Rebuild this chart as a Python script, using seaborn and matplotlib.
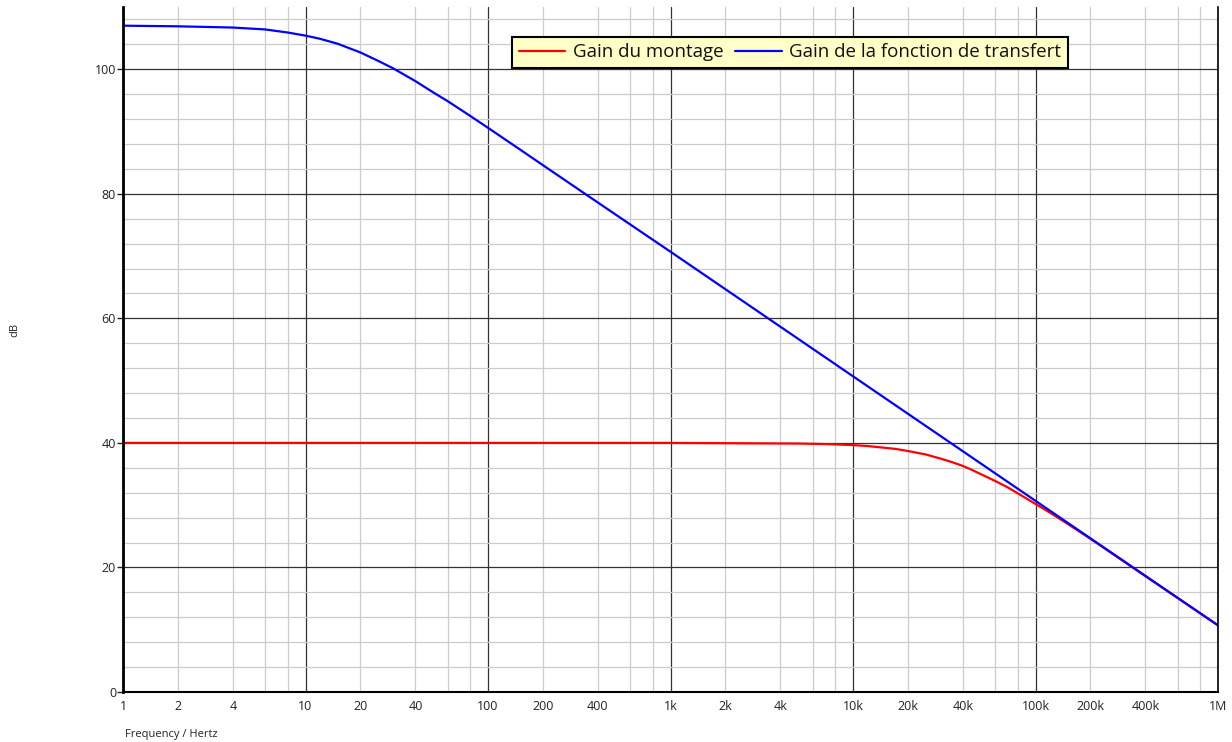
import matplotlib
matplotlib.use("Agg")
import matplotlib.pyplot as plt
import seaborn as sns
import pandas as pd
from matplotlib.ticker import FixedLocator, NullFormatter

# values (dB against Hz)
freq_blue = [1, 2, 4, 6, 8, 10, 12, 15, 20, 25, 30, 40, 50, 60, 80, 100,
             150, 200, 400, 1000, 10000, 100000, 1000000]
gain_blue = [107.0, 106.9, 106.7, 106.4, 105.9, 105.4, 104.9, 104.1, 102.7,
             101.35, 100.2, 98.1, 96.3, 94.9, 92.5, 90.6, 87.1, 84.6, 78.6,
             70.7, 50.7, 30.7, 10.7]

freq_red = [1, 10, 100, 1000, 5000, 7000, 10000, 12000, 14000, 17000, 20000,
            25000, 30000, 35000, 40000, 45000, 50000, 60000, 70000, 80000,
            100000, 120000, 150000, 200000, 400000, 1000000]
gain_red = [40.0, 40.0, 40.0, 40.0, 39.9, 39.82, 39.65, 39.5, 39.3, 39.05,
            38.7, 38.15, 37.5, 36.9, 36.3, 35.65, 35.0, 33.9, 32.9, 31.9,
            30.2, 28.8, 27.0, 24.6, 18.6, 10.7]

series_names = ["Gain du montage", "Gain de la fonction de transfert"]
series_colors = ["#ff0000", "#0000ff"]

xtick_pos = [1, 2, 4, 10, 20, 40, 100, 200, 400, 1e3, 2e3, 4e3, 1e4, 2e4,
             4e4, 1e5, 2e5, 4e5, 1e6]
xtick_labels = ["1", "2", "4", "10", "20", "40", "100", "200", "400", "1k",
                "2k", "4k", "10k", "20k", "40k", "100k", "200k", "400k", "1M"]

df = pd.concat([
    pd.DataFrame({"f": freq_red, "dB": gain_red, "serie": series_names[0]}),
    pd.DataFrame({"f": freq_blue, "dB": gain_blue, "serie": series_names[1]}),
])

sns.set_style("white")
plt.rcParams["font.family"] = ["Open Sans", "DejaVu Sans"]

fig = plt.figure(figsize=(12.32, 7.42), dpi=100)
ax = fig.add_axes([123 / 1232, 1 - 692 / 742, 1095 / 1232, 685 / 742])

sns.lineplot(data=df, x="f", y="dB", hue="serie", palette=series_colors,
             hue_order=series_names, linewidth=1.6, ax=ax, sort=False,
             estimator=None)

ax.set_xscale("log")
ax.set_xlim(1, 1e6)
ax.set_ylim(0, 110)

# grid: dark at decades / every 20 dB, light in between
minor_x = [m * 10 ** d for d in range(6) for m in (2, 4, 6, 8)]
ax.xaxis.set_major_locator(FixedLocator([10 ** d for d in range(7)]))
ax.xaxis.set_minor_locator(FixedLocator(minor_x))
ax.xaxis.set_major_formatter(NullFormatter())
ax.xaxis.set_minor_formatter(NullFormatter())
ax.set_yticks(range(0, 101, 20))
ax.set_yticks([v for v in range(4, 110, 4) if v % 20], minor=True)
ax.grid(which="major", color="#333333", linewidth=0.9)
ax.grid(which="minor", color="#cccccc", linewidth=0.9)
ax.set_axisbelow(True)

for x, lab in zip(xtick_pos, xtick_labels):
    ax.text(x, -0.012, lab, transform=ax.get_xaxis_transform(), ha="center",
            va="top", fontsize=9, color="#222222")

ax.tick_params(axis="y", which="major", length=4, width=1, labelsize=9,
               colors="#222222", left=True, pad=1)
ax.tick_params(axis="y", which="minor", length=0)
ax.tick_params(axis="x", which="both", length=0)

ax.spines["top"].set_visible(False)
ax.spines["left"].set_linewidth(2)
ax.spines["bottom"].set_linewidth(1.5)
ax.spines["right"].set_linewidth(1.2)
for s in ("left", "bottom", "right"):
    ax.spines[s].set_color("black")

ax.set_xlabel("")
ax.set_ylabel("")
fig.text(125 / 1232, 1 - 735 / 742, "Frequency / Hertz", ha="left",
         va="center", fontsize=8, color="#222222")
fig.text(15 / 1232, 1 - 330 / 742, "dB", ha="center", va="center",
         rotation=90, fontsize=8, color="#222222")

leg = ax.legend(loc="center", bbox_to_anchor=(0.609, 0.934), ncol=2,
                fontsize=13.5, frameon=True, fancybox=False,
                facecolor="#ffffc8", edgecolor="black", framealpha=1,
                handlelength=2.5, handletextpad=0.4, columnspacing=0.6,
                borderpad=0.35, borderaxespad=0)
leg.get_frame().set_linewidth(1.5)
for t in leg.get_texts():
    t.set_color("#111111")

fig.savefig("out.png", dpi=100)
